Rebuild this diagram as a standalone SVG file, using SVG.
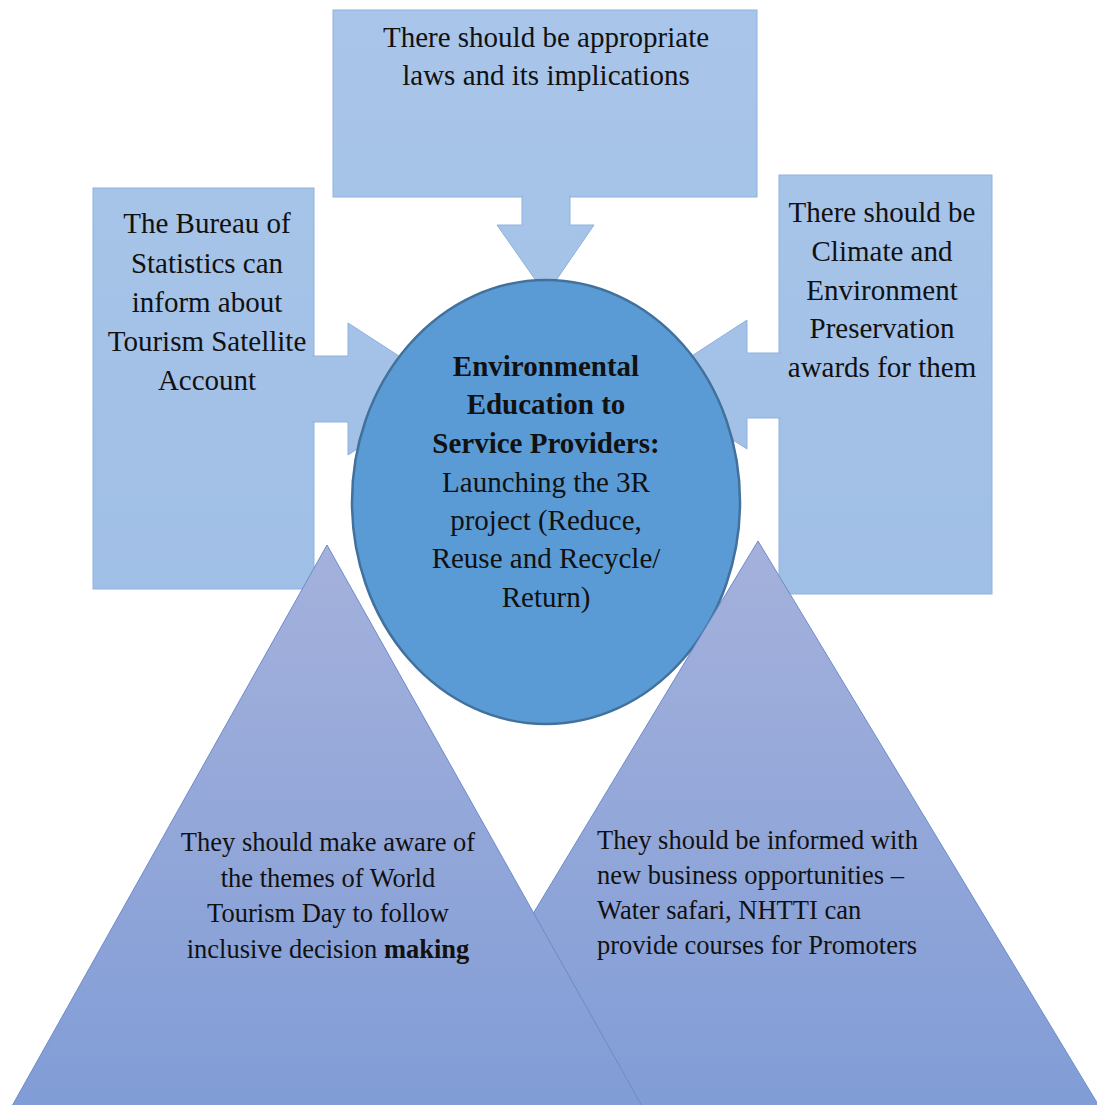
<svg xmlns="http://www.w3.org/2000/svg" width="1097" height="1105" viewBox="0 0 1097 1105">
<defs>
<linearGradient id="boxg" gradientUnits="userSpaceOnUse" x1="0" y1="0" x2="0" y2="620">
<stop offset="0" stop-color="#a9c5e9"/>
<stop offset="1" stop-color="#a0bfe6"/>
</linearGradient>
<linearGradient id="trig" gradientUnits="userSpaceOnUse" x1="0" y1="540" x2="0" y2="1105">
<stop offset="0" stop-color="#a5b1dc"/>
<stop offset="1" stop-color="#819dd6"/>
</linearGradient>
</defs>
<style>
.box{fill:url(#boxg);stroke:#8fb1df;stroke-width:1}
.arr{fill:url(#boxg);stroke:#8fb1df;stroke-width:1}
.tri{fill:url(#trig);stroke:#6b8bcb;stroke-width:1}
.hub{fill:#5b9bd5;stroke:#41719c;stroke-width:2.5}
text{font-family:"Liberation Serif","Times New Roman",serif;fill:#111;font-size:29px}
.c{text-anchor:middle}
.b{font-weight:bold}
.s{font-size:26.5px}
</style>
<rect width="1097" height="1105" fill="#fff"/>
<g id="top-box">
<rect class="box" x="333" y="10" width="424" height="187"/>
<text class="c" x="546" y="47">There should be appropriate</text>
<text class="c" x="546" y="85">laws and its implications</text>
</g>
<g id="left-box">
<rect class="box" x="93" y="188" width="221" height="401"/>
<text class="c" x="207" y="233">The Bureau of</text>
<text class="c" x="207" y="273">Statistics can</text>
<text class="c" x="207" y="312">inform about</text>
<text class="c" x="207" y="351">Tourism Satellite</text>
<text class="c" x="207" y="390">Account</text>
</g>
<g id="right-box">
<rect class="box" x="779" y="175" width="213" height="419"/>
<text class="c" x="882" y="222">There should be</text>
<text class="c" x="882" y="261">Climate and</text>
<text class="c" x="882" y="300">Environment</text>
<text class="c" x="882" y="338">Preservation</text>
<text class="c" x="882" y="377">awards for them</text>
</g>
<g id="connectors">
<path class="arr" d="M522,195 V225 H497 L546,295 L594,225 H570 V195"/>
<path class="arr" d="M312,356 H348 V323 L450,389 L348,455 V422 H312"/>
<path class="arr" d="M781,353 H747 V320 L647,385 L747,449 V418 H781"/>
</g>
<g id="hub">
<ellipse class="hub" cx="546" cy="502" rx="194" ry="222"/>
<text class="c b" x="546" y="376">Environmental</text>
<text class="c b" x="546" y="414">Education to</text>
<text class="c b" x="546" y="453">Service Providers:</text>
<text class="c" x="546" y="492">Launching the 3R</text>
<text class="c" x="546" y="530">project (Reduce,</text>
<text class="c" x="546" y="568">Reuse and Recycle/</text>
<text class="c" x="546" y="607">Return)</text>
</g>
<g id="right-triangle">
<path class="tri" d="M758,541 L1099,1106 L417,1106 Z"/>
<text class="s" x="597" y="849">They should be informed with</text>
<text class="s" x="597" y="884">new business opportunities –</text>
<text class="s" x="597" y="919">Water safari, NHTTI can</text>
<text class="s" x="597" y="954">provide courses for Promoters</text>
</g>
<g id="left-triangle">
<path class="tri" d="M327,545 L642,1106 L12,1106 Z"/>
<text class="c s" x="328" y="851">They should make aware of</text>
<text class="c s" x="328" y="887">the themes of World</text>
<text class="c s" x="328" y="922">Tourism Day to follow</text>
<text class="c s" x="328" y="958">inclusive decision <tspan class="b">making</tspan></text>
</g>
</svg>
